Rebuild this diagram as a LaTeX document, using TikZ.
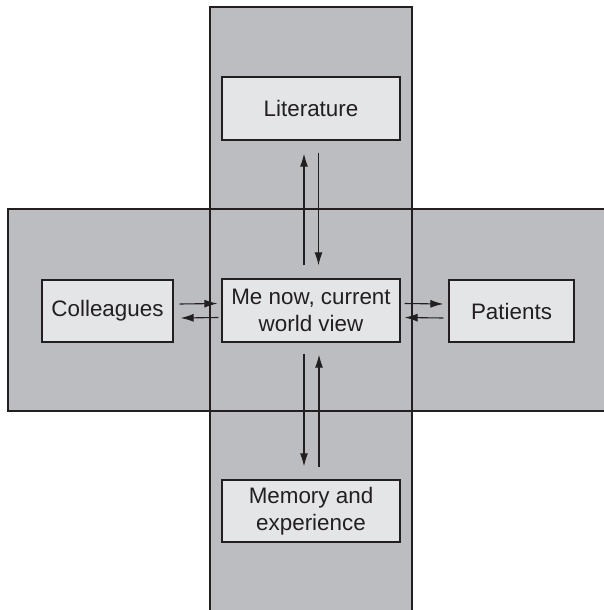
\documentclass[tikz,border=0pt]{standalone}
\usepackage{fontspec}
\setmainfont{Liberation Sans}
\usetikzlibrary{arrows.meta,calc}
\definecolor{bandgray}{HTML}{BCBDC1}
\definecolor{boxgray}{HTML}{E4E5E7}
\definecolor{ink}{HTML}{231F20}
\tikzset{
  band/.style={fill=bandgray},
  bandedge/.style={draw=ink,line width=1.3pt},
  card/.style={draw=ink,fill=boxgray,line width=1.3pt,inner sep=0pt,
    align=center,font=\fontsize{22.4}{26.5}\selectfont,text=ink},
  arr/.style={draw=ink,line width=1.1pt,-{Latex[length=13pt,width=8pt]}},
}
\begin{document}
\begin{tikzpicture}[x=1pt,y=-1pt]
\useasboundingbox (0,0) rectangle (604,610);
\clip (0,0) rectangle (604,610);
% the two crossing bands
\fill[band] (210,7) rectangle (412,620);
\fill[band] (8,209) rectangle (620,411);
\draw[bandedge] (210,620) -- (210,7) -- (412,7) -- (412,620);
\draw[bandedge] (620,209) -- (8,209) -- (8,411) -- (620,411);
% boxes
\node[card,minimum width=178pt,minimum height=63pt] (lit) at (311,108.5) {Literature};
\node[card,minimum width=178pt,minimum height=63pt] (me) at (311,310.5) {Me now, current\\world view};
\node[card,minimum width=131pt,minimum height=62pt] (col) at (107.5,311) {Colleagues};
\node[card,minimum width=125pt,minimum height=62pt] (pat) at (511.5,311) {Patients};
\node[card,minimum width=178pt,minimum height=62pt] (mem) at (311,511) {Memory and\\experience};
% vertical exchanges
\draw[arr] ($(me.north)+(-7,-13)$) -- ($(lit.south)+(-7,13)$);
\draw[arr] ($(lit.south)+(7.5,12)$) -- ($(me.north)+(7.5,-13)$);
\draw[arr] ($(me.south)+(-7,11)$) -- ($(mem.north)+(-7,-13)$);
\draw[arr] ($(mem.north)+(8,-12)$) -- ($(me.south)+(8,12)$);
% horizontal exchanges
\draw[arr] ($(col.east)+(6,-7)$) -- ($(me.west)+(-4,-7)$);
\draw[arr] ($(me.west)+(-3,7)$) -- ($(col.east)+(7,7)$);
\draw[arr] ($(me.east)+(4,-7)$) -- ($(pat.west)+(-5,-7)$);
\draw[arr] ($(pat.west)+(-5,7)$) -- ($(me.east)+(4,7)$);
\end{tikzpicture}
\end{document}
